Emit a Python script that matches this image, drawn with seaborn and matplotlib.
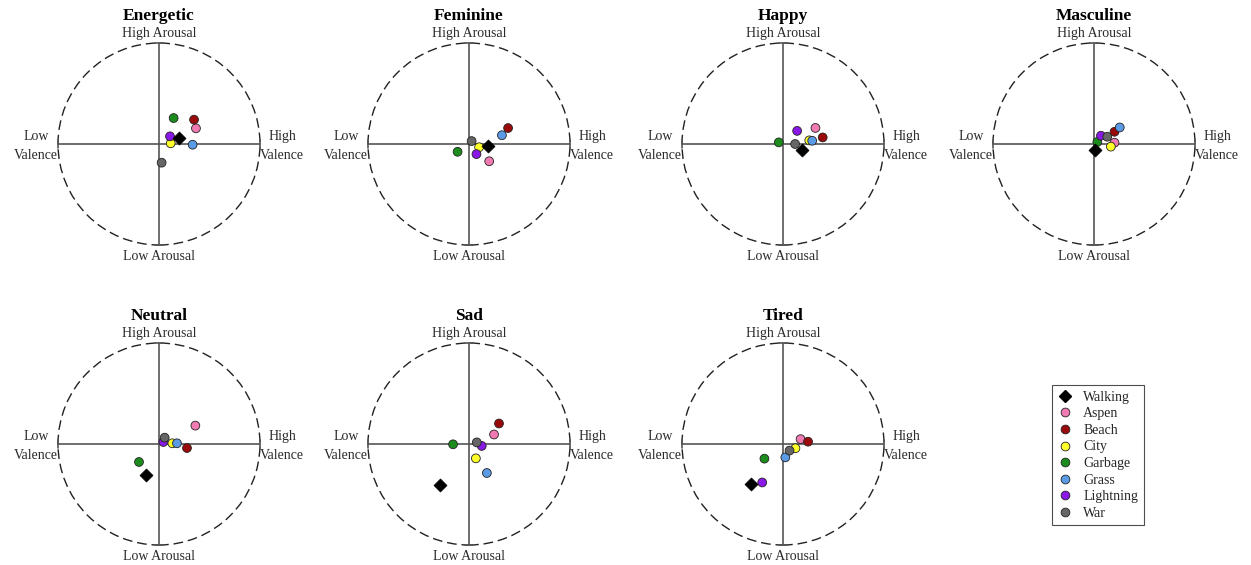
import matplotlib
matplotlib.use("Agg")
import matplotlib.pyplot as plt
from matplotlib.lines import Line2D
from matplotlib.patches import Circle
import numpy as np
import pandas as pd
import seaborn as sns

sns.set_style("white")
plt.rcParams["font.family"] = ["Liberation Serif", "DejaVu Serif"]

# Scene order and colours
scenes = ["Walking", "Aspen", "Beach", "City", "Garbage", "Grass", "Lightning", "War"]
scene_colors = ["#000000", "#f07ab2", "#9a0a0a", "#ffff2a", "#1c8c1c", "#5b9be6", "#8a18e6", "#666666"]

moods = ["Energetic", "Feminine", "Happy", "Masculine", "Neutral", "Sad", "Tired"]

# Mean valence / arousal per scene (order follows `scenes`)
valence_energetic = [0.198, 0.366, 0.347, 0.116, 0.145, 0.333, 0.109, 0.026]
arousal_energetic = [0.063, 0.155, 0.241, 0.007, 0.257, -0.007, 0.076, -0.185]

valence_feminine = [0.184, 0.200, 0.387, 0.100, -0.113, 0.326, 0.074, 0.026]
arousal_feminine = [-0.016, -0.171, 0.158, -0.032, -0.077, 0.087, -0.100, 0.029]

valence_happy = [0.188, 0.321, 0.393, 0.260, -0.042, 0.289, 0.140, 0.120]
arousal_happy = [-0.058, 0.159, 0.065, 0.036, 0.016, 0.032, 0.130, 0.000]

valence_masculine = [0.013, 0.203, 0.203, 0.167, 0.033, 0.255, 0.069, 0.131]
arousal_masculine = [-0.059, 0.013, 0.121, -0.026, 0.020, 0.164, 0.082, 0.072]

valence_neutral = [-0.132, 0.360, 0.277, 0.132, -0.198, 0.178, 0.043, 0.056]
arousal_neutral = [-0.310, 0.182, -0.040, 0.007, -0.178, 0.007, 0.020, 0.063]

valence_sad = [-0.284, 0.248, 0.297, 0.068, -0.158, 0.177, 0.126, 0.077]
arousal_sad = [-0.406, 0.094, 0.203, -0.142, -0.003, -0.287, -0.019, 0.016]

valence_tired = [-0.313, 0.174, 0.248, 0.123, -0.184, 0.023, -0.206, 0.065]
arousal_tired = [-0.400, 0.048, 0.023, -0.042, -0.145, -0.132, -0.381, -0.065]

valence_sets = [valence_energetic, valence_feminine, valence_happy, valence_masculine,
                valence_neutral, valence_sad, valence_tired]
arousal_sets = [arousal_energetic, arousal_feminine, arousal_happy, arousal_masculine,
                arousal_neutral, arousal_sad, arousal_tired]

rows = []
for mood, vals, aros in zip(moods, valence_sets, arousal_sets):
    for scene, v, a in zip(scenes, vals, aros):
        rows.append({"mood": mood, "scene": scene, "valence": v, "arousal": a})
df = pd.DataFrame(rows)

palette = dict(zip(scenes, scene_colors))

W_PX, H_PX = 1251, 565
fig = plt.figure(figsize=(W_PX / 100, H_PX / 100), dpi=100)

# panel centres in pixels (x from left, y from top)
centers = [(159, 144), (469, 144), (783, 144), (1094, 144),
           (159, 444), (469, 444), (783, 444)]
R_PX = 101          # pixel radius of the unit circle
LIM = 1.5
size_px = 2 * LIM * R_PX

label_color = "#2a2a2a"
axis_color = "#555555"

for mood, (cx, cy) in zip(moods, centers):
    left = (cx - size_px / 2) / W_PX
    bottom = (H_PX - cy - size_px / 2) / H_PX
    ax = fig.add_axes([left, bottom, size_px / W_PX, size_px / H_PX])
    ax.set_xlim(-LIM, LIM)
    ax.set_ylim(-LIM, LIM)
    ax.set_axis_off()

    ax.add_patch(Circle((0, 0), 1.0, fill=False, edgecolor="#222222",
                        linewidth=1.0, linestyle=(0, (7, 3.5)), zorder=1))
    ax.plot([-1, 1], [0, 0], color=axis_color, lw=1.2, zorder=2)
    ax.plot([0, 0], [-1, 1], color=axis_color, lw=1.2, zorder=2)
    cap = 0.035
    for x in (-1, 1):
        ax.plot([x, x], [-cap, cap], color=axis_color, lw=1.2, zorder=2)
    for y in (-1, 1):
        ax.plot([-cap, cap], [y, y], color=axis_color, lw=1.2, zorder=2)

    sub = df[df["mood"] == mood]
    circles = sub[sub["scene"] != "Walking"]
    walking = sub[sub["scene"] == "Walking"]
    sns.scatterplot(data=circles, x="valence", y="arousal", hue="scene",
                    hue_order=scenes[1:], palette=palette, s=40,
                    edgecolor="#222222", linewidth=0.6, legend=False,
                    ax=ax, zorder=3)
    sns.scatterplot(data=walking, x="valence", y="arousal", color="black",
                    marker="D", s=44, edgecolor="black", linewidth=0.5,
                    legend=False, ax=ax, zorder=4)
    ax.set_xlabel("")
    ax.set_ylabel("")

    ax.text(0, 1.27, mood, ha="center", va="center", fontsize=12.5,
            fontweight="bold", color="black")
    ax.text(0, 1.09, "High Arousal", ha="center", va="center", fontsize=10,
            color=label_color)
    ax.text(0, -1.11, "Low Arousal", ha="center", va="center", fontsize=10,
            color=label_color)
    ax.text(-1.0, -0.02, "Low\nValence", ha="right", va="center", fontsize=10,
            multialignment="center", color=label_color, linespacing=1.6)
    ax.text(1.0, -0.02, "High\nValence", ha="left", va="center", fontsize=10,
            multialignment="center", color=label_color, linespacing=1.6)

handles = []
for scene, col in zip(scenes, scene_colors):
    if scene == "Walking":
        h = Line2D([], [], linestyle="none", marker="D", markersize=6.5,
                   markerfacecolor="black", markeredgecolor="black")
    else:
        h = Line2D([], [], linestyle="none", marker="o", markersize=6.3,
                   markerfacecolor=col, markeredgecolor="#222222", markeredgewidth=0.6)
    handles.append(h)

leg = fig.legend(handles, scenes, loc="upper left",
                 bbox_to_anchor=(1052 / W_PX, 1 - 385 / H_PX),
                 frameon=True, fancybox=False, fontsize=10,
                 labelspacing=0.26, handlelength=1.0, handletextpad=0.85,
                 borderpad=0.4, borderaxespad=0)
leg.get_frame().set_edgecolor("#222222")
leg.get_frame().set_linewidth(0.8)

fig.savefig("out.png", dpi=100)
